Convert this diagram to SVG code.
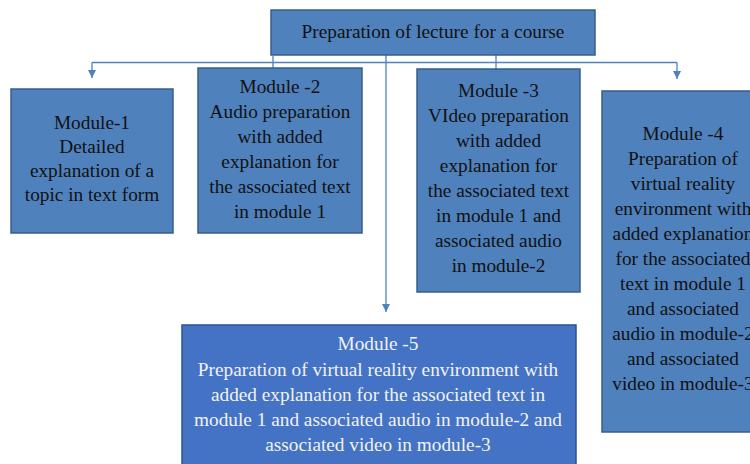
<svg xmlns="http://www.w3.org/2000/svg" width="750" height="464" viewBox="0 0 750 464">
<defs>
<style>
.box{fill:#4F81BD;stroke:#385D8A;stroke-width:1.5}
.box5{fill:#4472C4;stroke:#2F528F;stroke-width:1.5}
.t{font-family:"Liberation Serif","Times New Roman",serif;font-size:19.3px;fill:#111;text-anchor:middle}
.t5{font-family:"Liberation Serif","Times New Roman",serif;font-size:19.3px;fill:#F2F2F2;text-anchor:middle}
.c{fill:none;stroke:#4F81BD;stroke-width:1.3}
</style>
<marker id="ah" viewBox="0 0 10 10" refX="10" refY="5" markerWidth="8" markerHeight="8" orient="auto" markerUnits="userSpaceOnUse">
<path d="M0,0 L10,5 L0,10 z" fill="#4F81BD"/>
</marker>
</defs>
<rect width="750" height="464" fill="#fff"/>
<g id="connectors">
<line class="c" x1="92" y1="62.5" x2="677" y2="62.5"/>
<line class="c" x1="92" y1="62.5" x2="92" y2="78" marker-end="url(#ah)"/>
<line class="c" x1="677" y1="62.5" x2="677" y2="79" marker-end="url(#ah)"/>
<line class="c" x1="386" y1="55" x2="386" y2="312" marker-end="url(#ah)"/>
<line class="c" x1="273" y1="56" x2="273" y2="68"/>
<line class="c" x1="496" y1="55" x2="496" y2="69"/>
</g>
<g id="top">
<rect class="box" x="271" y="10" width="324" height="45"/>
<text class="t" x="433" y="37.5">Preparation of lecture for a course</text>
</g>
<g id="module1">
<rect class="box" x="11" y="89" width="162" height="144"/>
<text class="t"><tspan x="92" y="129">Module-1</tspan><tspan x="92" y="153">Detailed</tspan><tspan x="92" y="177">explanation of a</tspan><tspan x="92" y="201">topic in text form</tspan></text>
</g>
<g id="module2">
<rect class="box" x="198" y="68" width="164" height="165"/>
<text class="t"><tspan x="280" y="93">Module -2</tspan><tspan x="280" y="118">Audio preparation</tspan><tspan x="280" y="143">with added</tspan><tspan x="280" y="168">explanation for</tspan><tspan x="280" y="193">the associated text</tspan><tspan x="280" y="218">in module 1</tspan></text>
</g>
<g id="module3">
<rect class="box" x="417" y="69" width="163" height="223"/>
<text class="t"><tspan x="498.5" y="97">Module -3</tspan><tspan x="498.5" y="122">VIdeo preparation</tspan><tspan x="498.5" y="147">with added</tspan><tspan x="498.5" y="172">explanation for</tspan><tspan x="498.5" y="197">the associated text</tspan><tspan x="498.5" y="222">in module 1 and</tspan><tspan x="498.5" y="247">associated audio</tspan><tspan x="498.5" y="272">in module-2</tspan></text>
</g>
<g id="module4">
<rect class="box" x="602" y="91" width="162" height="341"/>
<text class="t"><tspan x="683" y="140">Module -4</tspan><tspan x="683" y="165">Preparation of</tspan><tspan x="683" y="190">virtual reality</tspan><tspan x="683" y="215">environment with</tspan><tspan x="683" y="240">added explanation</tspan><tspan x="683" y="265">for the associated</tspan><tspan x="683" y="290">text in module 1</tspan><tspan x="683" y="315">and associated</tspan><tspan x="683" y="340">audio in module-2</tspan><tspan x="683" y="365">and associated</tspan><tspan x="683" y="390">video in module-3</tspan></text>
</g>
<g id="module5">
<rect class="box5" x="182" y="325" width="394" height="160"/>
<text class="t5"><tspan x="378" y="350">Module -5</tspan><tspan x="378" y="375.5">Preparation of virtual reality environment with</tspan><tspan x="378" y="401">added explanation for the associated text in</tspan><tspan x="378" y="426">module 1 and associated audio in module-2 and</tspan><tspan x="378" y="451">associated video in module-3</tspan></text>
</g>
</svg>
